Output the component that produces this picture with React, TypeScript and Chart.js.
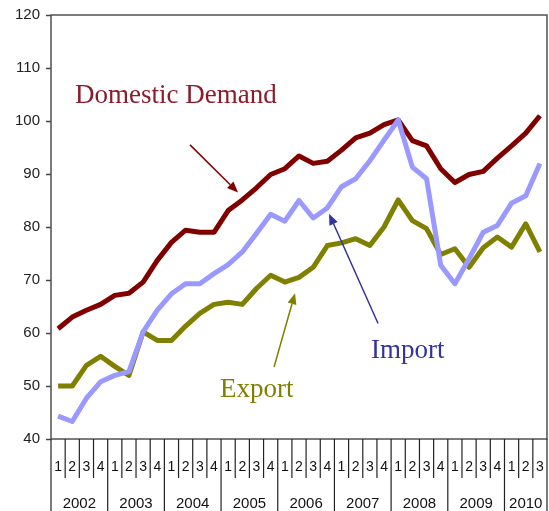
import React, { useEffect, useRef } from "react";
import { Chart, registerables } from "chart.js";

Chart.register(...registerables);

const CATEGORIES = [
  "2002 1", "2002 2", "2002 3", "2002 4",
  "2003 1", "2003 2", "2003 3", "2003 4",
  "2004 1", "2004 2", "2004 3", "2004 4",
  "2005 1", "2005 2", "2005 3", "2005 4",
  "2006 1", "2006 2", "2006 3", "2006 4",
  "2007 1", "2007 2", "2007 3", "2007 4",
  "2008 1", "2008 2", "2008 3", "2008 4",
  "2009 1", "2009 2", "2009 3", "2009 4",
  "2010 1", "2010 2", "2010 3",
];

const DOMESTIC_DEMAND = [
  60.8, 63.0, 64.3, 65.4, 67.1, 67.5, 69.6, 73.7, 77.1, 79.4, 79.0, 79.0,
  83.1, 85.1, 87.4, 89.9, 91.0, 93.4, 92.0, 92.4, 94.5, 96.8, 97.7, 99.3,
  100.2, 96.3, 95.3, 91.0, 88.4, 89.9, 90.5, 93.0, 95.3, 97.7, 101.0,
];

const IMPORT = [
  44.3, 43.3, 47.7, 50.8, 52.0, 52.7, 60.2, 64.3, 67.4, 69.3, 69.3, 71.2,
  72.9, 75.3, 78.8, 82.4, 81.1, 85.0, 81.7, 83.6, 87.6, 89.1, 92.5, 96.4,
  100.2, 91.3, 89.1, 72.8, 69.3, 74.0, 79.0, 80.3, 84.5, 85.9, 92.0,
];

const EXPORT = [
  50.0, 50.0, 53.9, 55.6, 53.7, 52.0, 60.2, 58.6, 58.6, 61.3, 63.7, 65.4,
  65.8, 65.4, 68.4, 70.9, 69.6, 70.5, 72.4, 76.5, 77.0, 77.8, 76.5, 80.0,
  85.1, 81.2, 79.7, 74.8, 75.9, 72.4, 76.1, 78.1, 76.2, 80.6, 75.3,
];

const Y_MIN = 40;
const Y_MAX = 120;
const Y_STEP = 10;

// annotation anchors in data space: [category index, value]
const ANNOTATIONS = [
  { text: "Domestic Demand", color: "#8a1c2b", arrowColor: "#800000", at: [1.19, 103.4], from: [9.31, 95.5], to: [12.7, 86.5] },
  { text: "Import", color: "#333399", arrowColor: "#333399", at: [22.08, 55.2], from: [22.58, 61.8], to: [19.12, 82.5] },
  { text: "Export", color: "#808000", arrowColor: "#808000", at: [11.43, 47.9], from: [15.24, 53.6], to: [16.72, 67.5] },
];

function drawArrow(ctx: CanvasRenderingContext2D, x1: number, y1: number, x2: number, y2: number, color: string) {
  const ang = Math.atan2(y2 - y1, x2 - x1);
  const hl = 11;
  const hw = 4.5;
  const c = Math.cos(ang);
  const s = Math.sin(ang);
  ctx.strokeStyle = color;
  ctx.lineWidth = 1.5;
  ctx.beginPath();
  ctx.moveTo(x1, y1);
  ctx.lineTo(x2 - hl * c, y2 - hl * s);
  ctx.stroke();
  ctx.fillStyle = color;
  ctx.beginPath();
  ctx.moveTo(x2, y2);
  ctx.lineTo(x2 - hl * c + hw * s, y2 - hl * s - hw * c);
  ctx.lineTo(x2 - hl * c - hw * s, y2 - hl * s + hw * c);
  ctx.closePath();
  ctx.fill();
}

const decorPlugin = {
  id: "decor",
  afterDraw(chart: any) {
    const { ctx, chartArea: a, scales } = chart;
    const x = scales.x;
    const y = scales.y;
    ctx.save();
    // frame
    ctx.strokeStyle = "#505050";
    ctx.lineWidth = 1.5;
    ctx.strokeRect(a.left, a.top, a.right - a.left, a.bottom - a.top);

    // x axis separators
    const n = CATEGORIES.length;
    const half = (x.getPixelForValue(1) - x.getPixelForValue(0)) / 2;
    ctx.strokeStyle = "#222";
    ctx.lineWidth = 1.2;
    for (let i = 0; i <= n; i++) {
      const px = i < n ? x.getPixelForValue(i) - half : x.getPixelForValue(n - 1) + half;
      const isYear = i === 0 || i === n || CATEGORIES[i].slice(0, 4) !== CATEGORIES[i - 1].slice(0, 4);
      ctx.beginPath();
      ctx.moveTo(px, a.bottom);
      ctx.lineTo(px, isYear ? chart.height : a.bottom + 39);
      ctx.stroke();
    }
    // quarter labels
    ctx.fillStyle = "#111";
    ctx.font = "14px 'Liberation Sans', Arial, sans-serif";
    ctx.textAlign = "center";
    ctx.textBaseline = "middle";
    for (let i = 0; i < n; i++) {
      ctx.fillText(CATEGORIES[i].slice(5), x.getPixelForValue(i), a.bottom + 28);
    }
    // year labels
    ctx.font = "15px 'Liberation Sans', Arial, sans-serif";
    let start = 0;
    for (let i = 1; i <= n; i++) {
      if (i === n || CATEGORIES[i].slice(0, 4) !== CATEGORIES[start].slice(0, 4)) {
        const l = x.getPixelForValue(start) - half;
        const r = x.getPixelForValue(i - 1) + half;
        ctx.fillText(CATEGORIES[start].slice(0, 4), (l + r) / 2, a.bottom + 65);
        start = i;
      }
    }

    // annotations
    ctx.textAlign = "left";
    ctx.textBaseline = "alphabetic";
    ctx.font = "27px 'Liberation Serif', 'Times New Roman', serif";
    for (const an of ANNOTATIONS) {
      ctx.fillStyle = an.color;
      ctx.fillText(an.text, x.getPixelForValue(an.at[0]), y.getPixelForValue(an.at[1]));
      drawArrow(
        ctx,
        x.getPixelForValue(an.from[0]),
        y.getPixelForValue(an.from[1]),
        x.getPixelForValue(an.to[0]),
        y.getPixelForValue(an.to[1]),
        an.arrowColor
      );
    }
    ctx.restore();
  },
};

export default function App() {
  const ref = useRef<HTMLCanvasElement | null>(null);
  useEffect(() => {
    document.body.style.margin = "0";
    document.body.style.overflow = "hidden";
    const canvas = ref.current;
    if (!canvas) return;
    const chart = new Chart(canvas, {
      type: "line",
      data: {
        labels: CATEGORIES,
        datasets: [
          { label: "Import", data: IMPORT, borderColor: "#9999ff", order: 0 },
          { label: "Domestic Demand", data: DOMESTIC_DEMAND, borderColor: "#800000", order: 1 },
          { label: "Export", data: EXPORT, borderColor: "#808000", order: 2 },
        ].map((d) => ({
          ...d,
          borderWidth: 5,
          pointRadius: 0,
          tension: 0,
          fill: false,
          borderJoinStyle: "round" as const,
        })),
      },
      options: {
        responsive: false,
        animation: false,
        events: [],
        layout: { padding: { top: 14, right: 2, left: 0, bottom: 0 } },
        plugins: { legend: { display: false }, tooltip: { enabled: false } },
        scales: {
          x: {
            type: "category",
            offset: true,
            ticks: { display: false },
            grid: { display: false },
            border: { display: false },
            afterFit: (s: any) => {
              s.height = 72;
            },
          },
          y: {
            min: Y_MIN,
            max: Y_MAX,
            ticks: {
              stepSize: Y_STEP,
              padding: 6,
              color: "#222",
              font: { family: "'Liberation Sans', Arial, sans-serif", size: 15 },
            },
            grid: { drawOnChartArea: false, drawTicks: true, tickLength: 5, tickColor: "#444", tickWidth: 1.5 },
            border: { display: false },
            afterFit: (s: any) => {
              s.width = 51;
            },
          },
        },
      },
      plugins: [decorPlugin],
    });
    return () => chart.destroy();
  }, []);
  return (
    <div style={{ width: 549, height: 511 }}>
      <canvas ref={ref} width={549} height={511} />
    </div>
  );
}
